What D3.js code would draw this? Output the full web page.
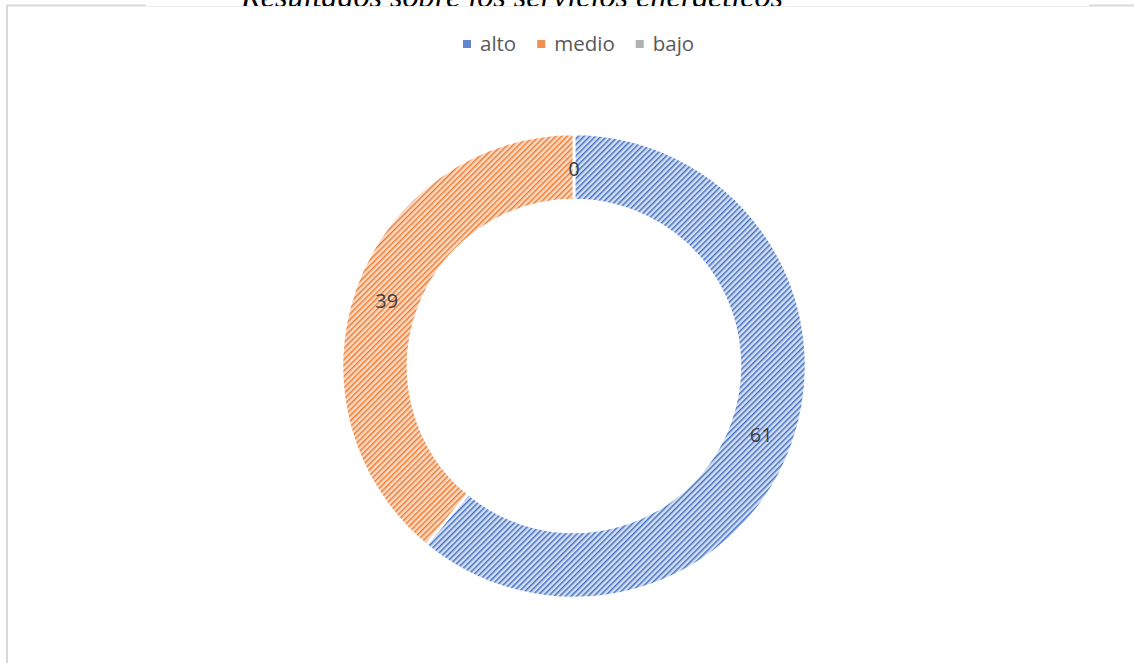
<!DOCTYPE html>
<html><head><meta charset="utf-8">
<script src="https://cdn.jsdelivr.net/npm/d3@7"></script>
<style>body{margin:0;background:#fff;}svg{display:block;}</style>
</head><body>
<svg id="c" width="1134" height="663"></svg>
<script>
const categories = ["alto", "medio", "bajo"];
const values = [61, 39, 0];
const colors = ["#4472C4", "#ED7D31", "#A5A5A5"];
const lightColors = ["#d4dff3", "#fbdac5", "#e3e3e3"];
const title = "Resultados sobre los servicios energéticos";

const svg = d3.select("#c");
const W = 1134, H = 663;
const FONT = "'Open Sans', 'Noto Sans', sans-serif";

// title (partially hidden above the chart frame, as in the reference)
svg.append("text").attr("x", 512).attr("y", 7).attr("text-anchor", "middle")
  .attr("font-family", "'Liberation Serif', 'Times New Roman', serif")
  .attr("font-style", "italic").attr("font-size", 32).attr("fill", "#000")
  .attr("textLength", 542).attr("lengthAdjust", "spacingAndGlyphs").text(title);

// chart area
svg.append("rect").attr("x", 7).attr("y", 6).attr("width", W - 7).attr("height", H - 6).attr("fill", "#fff");
svg.append("line").attr("x1", 7).attr("x2", 7).attr("y1", 5).attr("y2", H).attr("stroke", "#d9d9d9").attr("stroke-width", 2);
svg.append("line").attr("x1", 6).attr("x2", 146).attr("y1", 5.5).attr("y2", 5.5).attr("stroke", "#d9d9d9").attr("stroke-width", 2);
svg.append("line").attr("x1", 146).attr("x2", 1089).attr("y1", 6.5).attr("y2", 6.5).attr("stroke", "#ececec").attr("stroke-width", 1);
svg.append("line").attr("x1", 1089).attr("x2", W).attr("y1", 5.5).attr("y2", 5.5).attr("stroke", "#d9d9d9").attr("stroke-width", 2);

// patterns (wide upward diagonal)
const defs = svg.append("defs");
const P = 4;
categories.forEach((c, i) => {
  const p = defs.append("pattern").attr("id", "pat" + i).attr("patternUnits", "userSpaceOnUse")
    .attr("width", P).attr("height", P).attr("patternTransform", "rotate(45)");
  p.append("rect").attr("width", P).attr("height", P).attr("fill", lightColors[i]);
  p.append("rect").attr("x", 0).attr("y", 0).attr("width", 1.5).attr("height", P).attr("fill", colors[i]);
});

// legend
const lg = svg.append("g");
let lx = 463;
categories.forEach((c, i) => {
  lg.append("rect").attr("x", lx).attr("y", 40).attr("width", 8).attr("height", 8)
    .attr("fill", colors[i]).attr("opacity", 0.85);
  const t = lg.append("text").attr("x", lx + 17).attr("y", 51)
    .attr("font-family", FONT).attr("font-size", 20.5)
    .attr("fill", "#595959").text(c);
  lx += 17 + t.node().getComputedTextLength() + 21;
});

// donut
const cx = 574, cy = 366, rOut = 232, rIn = 166;
const pie = d3.pie().sort(null).value(d => d.v);
const data = pie(categories.map((c, i) => ({c, v: values[i], i})));
const arc = d3.arc().innerRadius(rIn).outerRadius(rOut);
const g = svg.append("g").attr("transform", `translate(${cx},${cy})`);
g.selectAll("path").data(data).join("path")
  .attr("d", arc).attr("fill", d => `url(#pat${d.data.i})`)
  .attr("stroke", "#fff").attr("stroke-width", 2.5);

g.selectAll("text.lbl").data(data).join("text").attr("class", "lbl")
  .attr("transform", d => { const [x, y] = arc.centroid(d); return `translate(${x},${y + 2})`; })
  .attr("text-anchor", "middle").attr("dy", "0.35em")
  .attr("font-family", FONT).attr("font-size", 20)
  .attr("fill", "#404040").text(d => d.data.v);
</script>
</body></html>
